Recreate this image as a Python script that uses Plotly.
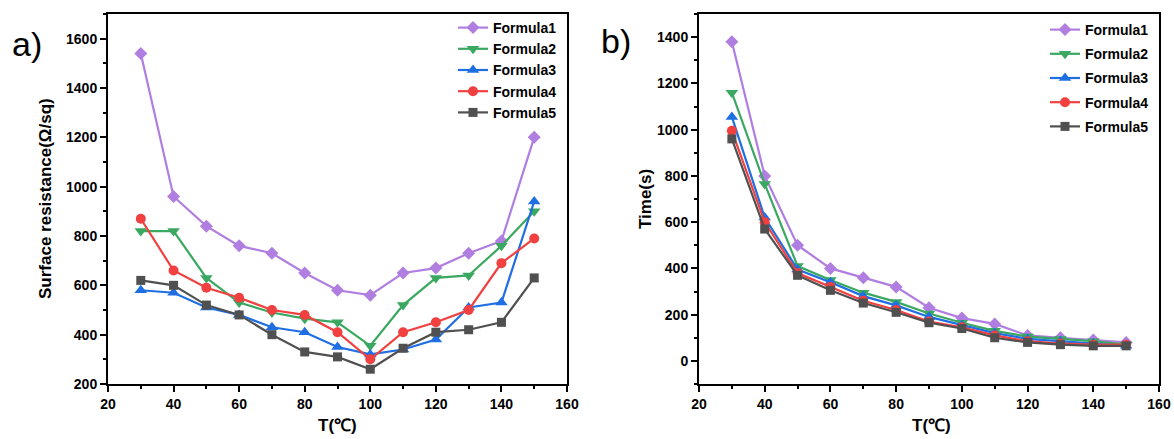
import plotly.graph_objects as go

T = [30, 40, 50, 60, 70, 80, 90, 100, 110, 120, 130, 140, 150]
names = ["Formula1", "Formula2", "Formula3", "Formula4", "Formula5"]

# Panel a) Surface resistance (Ω/sq)
res_f1 = [1540, 960, 840, 760, 730, 650, 580, 560, 650, 670, 730, 780, 1200]
res_f2 = [820, 820, 630, 530, 490, 465, 450, 355, 520, 630, 640, 760, 900]
res_f3 = [580, 570, 510, 480, 430, 410, 350, 320, 340, 380, 510, 530, 940]
res_f4 = [870, 660, 590, 550, 500, 480, 410, 300, 410, 450, 500, 690, 790]
res_f5 = [620, 600, 520, 480, 400, 330, 310, 260, 345, 410, 420, 450, 630]

# Panel b) Time (s)
time_f1 = [1380, 800, 500, 400, 360, 320, 230, 185, 160, 110, 100, 90, 80]
time_f2 = [1160, 765, 410, 350, 295, 255, 205, 165, 130, 105, 95, 85, 70]
time_f3 = [1055, 620, 395, 340, 280, 240, 190, 155, 120, 95, 85, 75, 65]
time_f4 = [995, 600, 380, 320, 260, 220, 170, 145, 110, 85, 75, 70, 70]
time_f5 = [960, 570, 370, 305, 250, 210, 165, 140, 100, 80, 70, 65, 65]

res_all = [res_f1, res_f2, res_f3, res_f4, res_f5]
time_all = [time_f1, time_f2, time_f3, time_f4, time_f5]

colors = ["#b07ee0", "#3aa860", "#1f6fe3", "#f04040", "#505050"]
symbols = ["diamond", "triangle-down", "triangle-up", "circle", "square"]
sizes = [10, 11, 11, 10, 9]

FONT = "Arial, Liberation Sans, sans-serif"

fig = go.Figure()
for i in range(5):
    fig.add_trace(go.Scatter(
        x=T, y=res_all[i], name=names[i], mode="lines+markers",
        line=dict(color=colors[i], width=2.2),
        marker=dict(symbol=symbols[i], size=sizes[i], color=colors[i]),
        xaxis="x", yaxis="y", legend="legend"))
for i in range(5):
    fig.add_trace(go.Scatter(
        x=T, y=time_all[i], name=names[i], mode="lines+markers",
        line=dict(color=colors[i], width=2.2),
        marker=dict(symbol=symbols[i], size=sizes[i], color=colors[i]),
        legendgroup="b%d" % i,
        xaxis="x2", yaxis="y2", legend="legend2"))

W, H = 1174, 439
ydom = [1 - 384 / H, 1 - 14 / H]
axis_common = dict(
    showline=True, linecolor="black", linewidth=2, mirror=True,
    ticks="outside", ticklen=6, tickwidth=2, tickcolor="black",
    showgrid=False, zeroline=False, automargin=False,
    tickfont=dict(family=FONT, size=14, color="black", weight="bold"),
)

fig.update_layout(
    width=W, height=H,
    margin=dict(l=0, r=0, t=0, b=0),
    paper_bgcolor="white", plot_bgcolor="white",
    font=dict(family=FONT, color="black"),
    xaxis=dict(domain=[108 / W, 567 / W], range=[20, 160], dtick=20,
               minor=dict(ticks="outside", ticklen=3, tickwidth=2, dtick=10, tickcolor="black"),
               anchor="y", **axis_common),
    yaxis=dict(domain=ydom, range=[200, 1700], dtick=200, tick0=200,
               minor=dict(ticks="outside", ticklen=3, tickwidth=2, dtick=100, tickcolor="black"),
               anchor="x", **axis_common),
    xaxis2=dict(domain=[699 / W, 1159 / W], range=[20, 160], dtick=20,
                minor=dict(ticks="outside", ticklen=3, tickwidth=2, dtick=10, tickcolor="black"),
                anchor="y2", **axis_common),
    yaxis2=dict(domain=ydom, range=[-100, 1500], dtick=200, tick0=0,
                minor=dict(ticks="outside", ticklen=3, tickwidth=2, dtick=100, tickcolor="black"),
                anchor="x2", **axis_common),
    legend=dict(x=562 / W, y=1 - 12 / H, xanchor="right", yanchor="top",
                bgcolor="rgba(0,0,0,0)", tracegroupgap=0,
                font=dict(family=FONT, size=14, color="black", weight="bold")),
    legend2=dict(x=1154 / W, y=1 - 14 / H, xanchor="right", yanchor="top",
                 bgcolor="rgba(0,0,0,0)", tracegroupgap=3,
                 font=dict(family=FONT, size=14, color="black", weight="bold")),
    showlegend=True,
)

ann_font = dict(family=FONT, size=17, color="black", weight="bold")
def ann(text, x, y, font, angle=0):
    fig.add_annotation(text=text, textangle=angle, x=x / W, y=1 - y / H,
                       xref="paper", yref="paper", xanchor="center", yanchor="middle",
                       showarrow=False, font=font)

ann("Surface resistance(Ω/sq)", 45, 199, ann_font, -90)
ann("Time(s)", 645, 199, ann_font, -90)
ann("T(℃)", 337, 425, ann_font)
ann("T(℃)", 931, 425, ann_font)
ann("a)", 27, 44, dict(family=FONT, size=34, color="black"))
ann("b)", 616, 41, dict(family=FONT, size=34, color="black"))

fig.write_html("out.html")
